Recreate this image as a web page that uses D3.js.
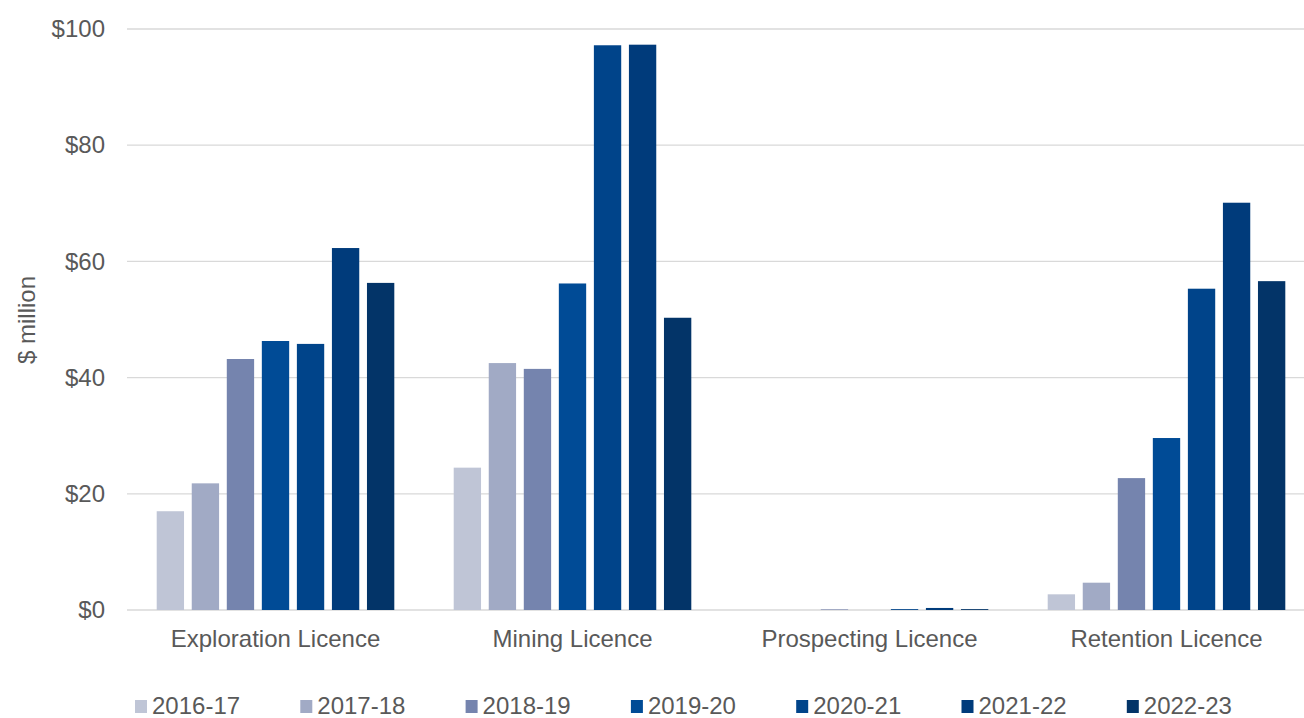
<!DOCTYPE html>
<html><head><meta charset="utf-8">
<script src="https://cdn.jsdelivr.net/npm/d3@7"></script>
<style>body{margin:0;background:#fff;}svg{display:block;font-family:"Liberation Sans",Arial,sans-serif;}</style>
</head><body><svg id="c" width="1304" height="718"></svg>
<script>
const categories = ["Exploration Licence","Mining Licence","Prospecting Licence","Retention Licence"];
const seriesNames = ["2016-17","2017-18","2018-19","2019-20","2020-21","2021-22","2022-23"];
const s2016 = [17.0, 24.5, 0, 2.7];
const s2017 = [21.8, 42.5, 0, 4.7];
const s2018 = [43.2, 41.5, 0.1, 22.7];
const s2019 = [46.3, 56.2, 0, 29.6];
const s2020 = [45.8, 97.2, 0.15, 55.3];
const s2021 = [62.3, 97.3, 0.35, 70.1];
const s2022 = [56.3, 50.3, 0.15, 56.6];
const seriesValues = [s2016,s2017,s2018,s2019,s2020,s2021,s2022];
const colors = ["#BFC5D6","#A1AAC5","#7584AE","#004B96","#00448A","#003B7B","#033468"];
const yTicks = [0,20,40,60,80,100];

const svg = d3.select("#c");
const m = {left:127, right:1315, top:29, bottom:610};
const x0 = d3.scaleBand().domain(categories).range([m.left, m.right]).paddingInner(0).paddingOuter(0);
const x1 = d3.scaleBand().domain(seriesNames).range([0, x0.bandwidth()*0.8]).paddingInner(0.22);
const y = d3.scaleLinear().domain([0,100]).range([m.bottom, m.top]);

// gridlines
svg.append("g").selectAll("line").data(yTicks).join("line")
  .attr("x1", m.left).attr("x2", m.right)
  .attr("y1", d=>y(d)).attr("y2", d=>y(d))
  .attr("stroke", "#D9D9D9").attr("stroke-width", 1.3);

// y axis labels
const yAxis = d3.axisLeft(y).tickValues(yTicks).tickFormat(d=>"$"+d).tickSize(0).tickPadding(0);
const ga = svg.append("g").attr("transform", `translate(${m.left-22},0)`).call(yAxis);
ga.select(".domain").remove();
ga.selectAll("text").attr("font-size", 24).attr("fill", "#595959").attr("font-family", "Liberation Sans, Arial, sans-serif");

// y title
svg.append("text").attr("transform", "translate(35,320) rotate(-90)")
  .attr("text-anchor","middle").attr("font-size",24).attr("fill","#595959").text("$ million");

// bars
const groupOffset = x0.bandwidth()*0.1;
seriesNames.forEach((s, si) => {
  svg.append("g").selectAll("rect").data(categories).join("rect")
    .attr("x", (c)=> x0(c) + groupOffset + x1(s))
    .attr("width", x1.bandwidth())
    .attr("y", (c,i)=> y(seriesValues[si][i]))
    .attr("height", (c,i)=> m.bottom - y(seriesValues[si][i]))
    .attr("fill", colors[si]);
});

// category labels
svg.append("g").selectAll("text").data(categories).join("text")
  .attr("x", c=> x0(c)+x0.bandwidth()/2).attr("y", 647)
  .attr("text-anchor","middle").attr("font-size",24).attr("fill","#595959").text(c=>c);

// legend
const lg = svg.append("g");
seriesNames.forEach((s,i)=>{
  const lx = 135 + i*165.3;
  lg.append("rect").attr("x", lx).attr("y", 700).attr("width", 12).attr("height", 13).attr("fill", colors[i]);
  lg.append("text").attr("x", lx+17).attr("y", 714).attr("font-size",24).attr("fill","#595959").text(s);
});
</script></body></html>
